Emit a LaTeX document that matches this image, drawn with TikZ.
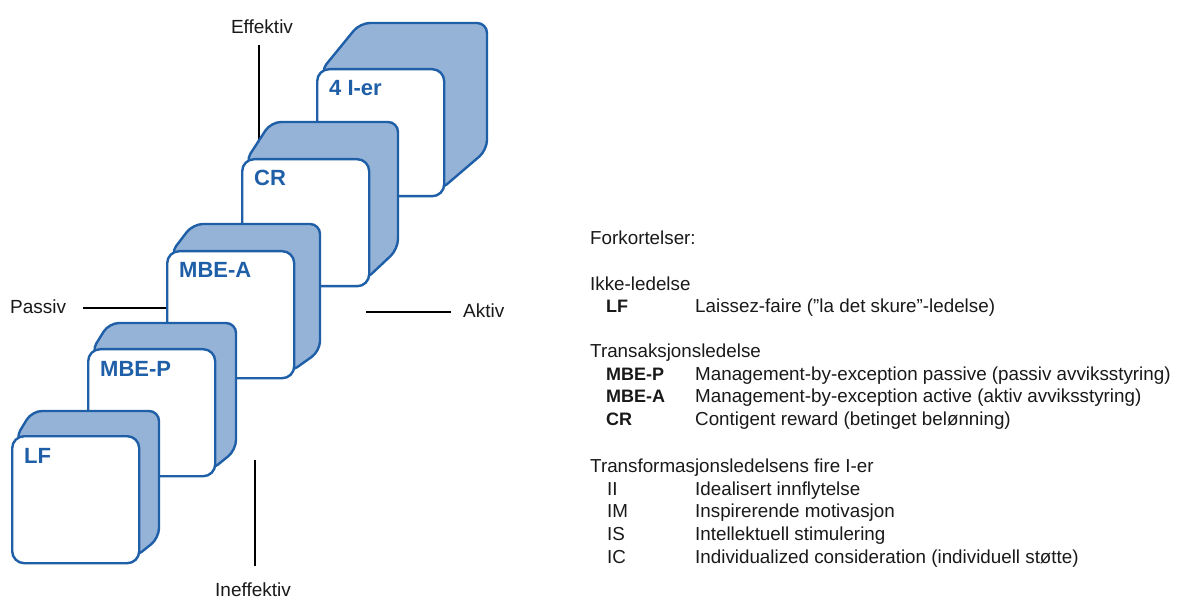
\documentclass[tikz,border=0pt]{standalone}
\usepackage{fontspec}
\setmainfont{Liberation Sans}
\usetikzlibrary{calc}
\definecolor{cubeblue}{HTML}{1F5FA8}
\definecolor{cubefill}{HTML}{95B3D7}
\def\txt{black!90}

\begin{document}
\begin{tikzpicture}[x=1pt,y=-1pt,
  back/.style={draw=cubeblue,fill=cubefill,line width=2.4pt,rounded corners=10pt},
  face/.style={draw=cubeblue,fill=white,line width=2.4pt,rounded corners=12pt,
    minimum width=127pt,minimum height=127pt,inner sep=0pt,anchor=north west},
  cube label/.style={anchor=base west,inner sep=0pt,text=cubeblue,
    font=\fontsize{22}{26}\selectfont\bfseries},
  axis/.style={inner sep=0pt,text=\txt,font=\fontsize{19}{22}\selectfont},
  axis line/.style={line width=2pt,black},
  legend/.style={anchor=base west,inner sep=0pt,text=\txt,font=\fontsize{18.8}{22}\selectfont},
  abbr/.style={legend,font=\fontsize{18}{22}\selectfont\bfseries}]
  \fill[white] (0,0) rectangle (1180,601);
  \useasboundingbox (0,0) rectangle (1180,601);

  % axes
  \node[axis] (effektiv) at (262,27) {Effektiv};
  \node[axis] (ineffektiv) at (253,590) {Ineffektiv};
  \node[axis,anchor=west] (passiv) at (10,307) {Passiv};
  \node[axis,anchor=west] (aktiv) at (463,311) {Aktiv};
  \coordinate (eff a) at (259,45);
  \coordinate (eff b) at (259,160);
  \coordinate (ineff a) at (255,460);
  \coordinate (ineff b) at (255,566);
  \coordinate (pas a) at (83,308);
  \coordinate (pas b) at (172,308);
  \coordinate (akt a) at (366,312);
  \coordinate (akt b) at (451,312);
  \draw[axis line] (eff a) -- (eff b);
  \draw[axis line] (ineff a) -- (ineff b);
  \draw[axis line] (pas a) -- (pas b);
  \draw[axis line] (akt a) -- (akt b);

  % cubes, back to front
  \foreach \x/\y/\dx/\dy/\n/\t in {316/68/44/-45/ier/4 I-er, 241/158/30/-36/cr/CR,
      166/250/27/-26/mbea/MBE-A, 87/348/22/-25/mbep/MBE-P, 11/435/21/-24/lf/LF}{
    \draw[back] (\x+4,\y+4) -- (\x+\dx,\y+\dy) -- ++(127,0) -- ++(0,127)
      -- (\x+123,\y+123) -- cycle;
    \node[face] (\n) at (\x,\y) {};
    \node[cube label] (\n label) at ($(\n.north west)+(13,28)$) {\t};
  }

  % legend
  \node[legend] (fork) at (590,245) {Forkortelser:};
  \node[legend] (ikke) at (590,291) {Ikke-ledelse};
  \node[abbr] (lf abbr) at (606,313) {LF};
  \node[legend] (lf text) at (695,313) {Laissez-faire (”la det skure”-ledelse)};
  \node[legend] (trans) at (590,358) {Transaksjonsledelse};
  \node[abbr] (mbep abbr) at (606,380) {MBE-P};
  \node[legend] (mbep text) at (695,380) {Management-by-exception passive (passiv avviksstyring)};
  \node[abbr] (mbea abbr) at (606,402) {MBE-A};
  \node[legend] (mbea text) at (695,402) {Management-by-exception active (aktiv avviksstyring)};
  \node[abbr] (cr abbr) at (606,425) {CR};
  \node[legend] (cr text) at (695,425) {Contigent reward (betinget belønning)};
  \node[legend] (transf) at (590,472) {Transformasjonsledelsens fire I-er};
  \node[legend] (ii abbr) at (607,495) {II};
  \node[legend] (ii text) at (695,495) {Idealisert innflytelse};
  \node[legend] (im abbr) at (607,517) {IM};
  \node[legend] (im text) at (695,517) {Inspirerende motivasjon};
  \node[legend] (is abbr) at (607,540) {IS};
  \node[legend] (is text) at (695,540) {Intellektuell stimulering};
  \node[legend] (ic abbr) at (607,563) {IC};
  \node[legend] (ic text) at (695,563) {Individualized consideration (individuell støtte)};
\end{tikzpicture}
\end{document}
